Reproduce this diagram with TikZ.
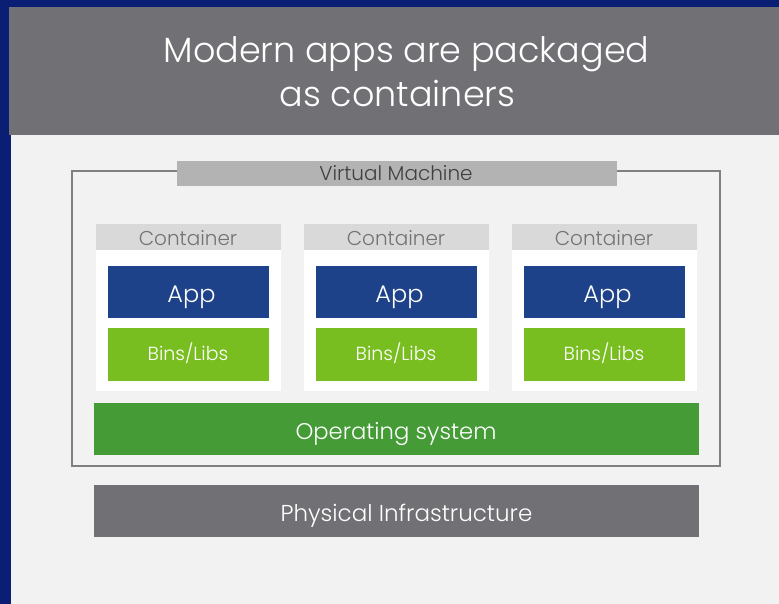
\documentclass[tikz,border=0pt]{standalone}
\usepackage{fontspec}
\setmainfont{Poppins}[UprightFont=* Light]
\begin{document}
\begin{tikzpicture}[x=1pt,y=-1pt,
  block/.style={draw=none,inner sep=0pt,anchor=north west},
  txt/.style={inner sep=0pt,anchor=base}]
\definecolor{navy}{HTML}{0A1E74}
\definecolor{slate}{HTML}{717074}
\definecolor{panel}{HTML}{F2F2F2}
\definecolor{vmbar}{HTML}{B3B3B3}
\definecolor{vmline}{HTML}{808080}
\definecolor{chead}{HTML}{D9D9D9}
\definecolor{appblue}{HTML}{1D4289}
\definecolor{libgreen}{HTML}{78BE20}
\definecolor{osgreen}{HTML}{459C37}
\useasboundingbox (0,0) rectangle (779,604);
% backdrop
\fill[navy] (0,0) rectangle (779,604);
\fill[slate] (9,7) rectangle (779,135);
\fill[panel] (11,135) rectangle (779,604);
% title
\node[txt,text=white,font=\fontsize{35}{40}\selectfont] (title1) at (406.5,63) {Modern apps are packaged};
\node[txt,text=white,font=\fontsize{35}{40}\selectfont] (title2) at (397.5,107) {as containers};
% virtual machine frame
\draw[vmline,line width=1.6pt] (72,171) rectangle (720,466);
\fill[vmbar] (177,161) rectangle (617,186);
\node[txt,text=black!75,font=\fontsize{20}{22}\selectfont] (vm) at (396,181) {Virtual Machine};
% containers
\foreach \i/\x in {1/96,2/304,3/512}{
  \fill[chead] (\x,224) rectangle ++(185,26);
  \fill[white] (\x,250) rectangle ++(185,141);
  \node[txt,text=black!55,font=\fontsize{20}{22}\selectfont] (c\i) at (\x+92,245) {Container};
  \node[block,fill=appblue,minimum width=161pt,minimum height=52pt] (app\i) at (\x+12,266) {};
  \node[txt,text=white,font=\fontsize{24}{26}\selectfont] (appt\i) at (\x+95.5,302) {App};
  \node[block,fill=libgreen,minimum width=161pt,minimum height=53pt] (lib\i) at (\x+12,328) {};
  \node[txt,text=white,font=\fontsize{19}{21}\selectfont] (libt\i) at (\x+92,360) {Bins/Libs};
}
% operating system and hardware
\node[block,fill=osgreen,minimum width=605pt,minimum height=52pt] (os) at (94,403) {};
\node[txt,text=white,font=\fontsize{22.7}{25}\selectfont] (ost) at (396,439) {Operating system};
\node[block,fill=slate,minimum width=605pt,minimum height=52pt] (hw) at (94,485) {};
\node[txt,text=white,font=\fontsize{23}{25}\selectfont] (hwt) at (406.5,521) {Physical Infrastructure};
\end{tikzpicture}
\end{document}
